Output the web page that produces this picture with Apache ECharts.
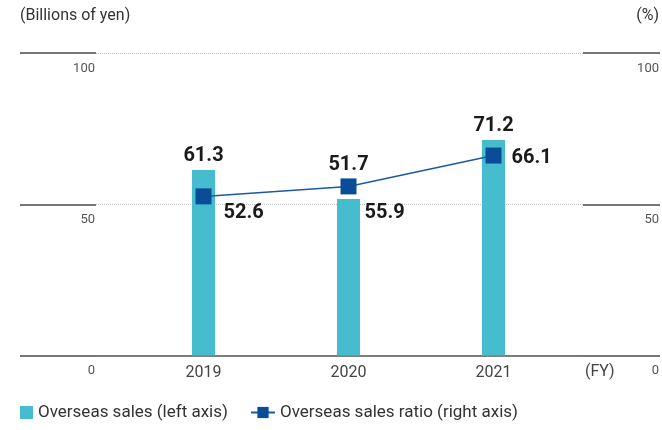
<!DOCTYPE html>
<html>
<head>
<meta charset="utf-8">
<script src="https://cdn.jsdelivr.net/npm/echarts@6/dist/echarts.min.js"></script>
<style>
  html, body { margin: 0; padding: 0; background: #fff; }
  #chart { width: 662px; height: 430px; }
</style>
</head>
<body>
<div id="chart"></div>
<script>
// Fiscal years and values
const years = ['2019', '2020', '2021'];
const overseasSales = [61.3, 51.7, 71.2];      // billions of yen (left axis)
const overseasRatio = [52.6, 55.9, 66.1];      // % (right axis)
const axisTicks = [0, 50, 100];

const salesName = 'Overseas sales (left axis)';
const ratioName = 'Overseas sales ratio (right axis)';

const FONT = 'Roboto, "Noto Sans", sans-serif';
const BAR_COLOR = '#46bccf';
const LINE_COLOR = '#0a4c97';

// label placement tweaks so value labels do not collide with the markers
const barLabelShift = [[0, 0], [0, -20], [0, 0]];
const ratioLabelShift = [[6, 17], [2, 27], [4, 2]];

const chart = echarts.init(document.getElementById('chart'));

const yMin = axisTicks[0];
const yMax = axisTicks[axisTicks.length - 1];
const yStep = axisTicks[1] - axisTicks[0];

const valueLabel = {
  show: true,
  fontFamily: FONT,
  fontSize: 20,
  fontWeight: 'bold',
  color: '#1a1a1a'
};

chart.setOption({
  animation: false,
  textStyle: { fontFamily: FONT },
  title: [
    { text: '(Billions of yen)', left: 20, top: 8, padding: 0,
      textStyle: { fontFamily: FONT, fontSize: 16, fontWeight: 'normal', color: '#333' } },
    { text: '(%)', right: 3, top: 8, padding: 0,
      textStyle: { fontFamily: FONT, fontSize: 16, fontWeight: 'normal', color: '#333' } }
  ],
  legend: [
    { data: [salesName], left: 20, top: 404, padding: 0, icon: 'rect', itemWidth: 13, itemHeight: 13,
      itemGap: 6, textStyle: { fontFamily: FONT, fontSize: 17, color: '#333' } },
    { data: [ratioName], left: 250, top: 404, padding: 0, itemWidth: 24, itemHeight: 14,
      textStyle: { fontFamily: FONT, fontSize: 17, color: '#333' } }
  ],
  grid: [
    // frame grid: carries the gridlines and the two value axes
    { left: 96, right: 79, top: 53, bottom: 74.5 },
    // plot grid: carries the bars and the ratio line
    { left: 131, right: 96, top: 53, bottom: 74.5 }
  ],
  xAxis: [
    { gridIndex: 0, type: 'category', data: years,
      axisLine: { show: true, lineStyle: { color: '#555', width: 1.5 } },
      axisTick: { show: false }, axisLabel: { show: false }, splitLine: { show: false } },
    { gridIndex: 1, type: 'category', data: years,
      axisLine: { show: false }, axisTick: { show: false },
      axisLabel: { fontFamily: FONT, fontSize: 16, color: '#444', margin: 9 },
      name: '(FY)', nameLocation: 'end', nameGap: 19,
      nameTextStyle: { fontFamily: FONT, fontSize: 16, color: '#444',
        verticalAlign: 'top', padding: [8, 0, 0, 0] } }
  ],
  yAxis: [
    { gridIndex: 0, type: 'value', min: yMin, max: yMax, interval: yStep,
      axisLine: { show: false },
      axisTick: { show: true, length: 76, lineStyle: { color: '#777', width: 2 } },
      axisLabel: { fontFamily: FONT, fontSize: 13, color: '#555', margin: 1,
        verticalAlign: 'top', padding: [9, 0, 0, 0] },
      splitLine: { show: true, lineStyle: { color: '#c4c4c4', type: 'dotted', width: 1 } } },
    { gridIndex: 0, type: 'value', position: 'right', min: yMin, max: yMax, interval: yStep,
      axisLine: { show: false },
      axisTick: { show: true, length: 77, lineStyle: { color: '#777', width: 2 } },
      axisLabel: { fontFamily: FONT, fontSize: 13, color: '#555', margin: 76, align: 'right',
        verticalAlign: 'top', padding: [9, 0, 0, 0] },
      splitLine: { show: false } },
    { gridIndex: 1, type: 'value', min: yMin, max: yMax, interval: yStep, show: false },
    { gridIndex: 1, type: 'value', min: yMin, max: yMax, interval: yStep, show: false }
  ],
  series: [
    {
      name: salesName,
      type: 'bar',
      xAxisIndex: 1, yAxisIndex: 2,
      barWidth: 23,
      itemStyle: { color: BAR_COLOR },
      data: overseasSales.map((v, i) => ({
        value: v,
        label: Object.assign({}, valueLabel, { position: 'top', distance: 4, offset: barLabelShift[i] })
      }))
    },
    {
      name: ratioName,
      type: 'line',
      xAxisIndex: 1, yAxisIndex: 3,
      symbol: 'rect',
      symbolSize: 16,
      z: 5,
      itemStyle: { color: LINE_COLOR },
      lineStyle: { color: '#1b5aa6', width: 1.5 },
      data: overseasRatio.map((v, i) => ({
        value: v,
        label: Object.assign({}, valueLabel, { position: 'right', distance: 6, offset: ratioLabelShift[i] })
      }))
    }
  ]
});
</script>
</body>
</html>
